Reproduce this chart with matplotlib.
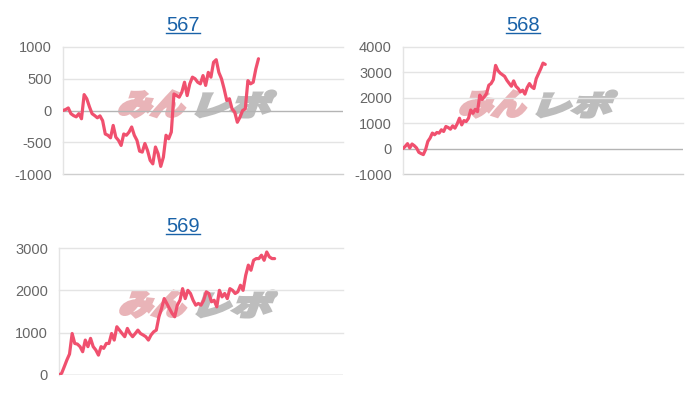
import matplotlib
matplotlib.use("Agg")
import matplotlib.pyplot as plt
import matplotlib.transforms as mtrans
from matplotlib.textpath import TextPath
from matplotlib.patches import PathPatch
from matplotlib.font_manager import FontProperties
from matplotlib.lines import Line2D
import numpy as np

# ---------------- data ----------------
titles = ["567", "568", "569"]

s567 = [0, 15, 40, -50, -80, -100, -50, -130, 250, 185,
        60, -50, -80, -115, -85, -160, -370, -390, -430, -235,
        -420, -470, -550, -370, -390, -340, -260, -390, -470, -640,
        -655, -520, -630, -785, -840, -575, -680, -880, -735, -390,
        -445, -340, 260, 235, 210, 290, 445, 235, 420, 525,
        500, 445, 420, 550, 395, 600, 525, 760, 800, 600,
        500, 340, 157, 185, 25, -25, -185, -105, 0, 25,
        470, 420, 445, 655, 815]

s568 = [0, 90, 195, 25, 180, 115, 25, -145, -195, -235,
        -40, 285, 415, 610, 545, 635, 610, 740, 675, 870,
        830, 765, 895, 805, 975, 1195, 935, 1105, 1065, 1195,
        1520, 1390, 1545, 1455, 2105, 1935, 2040, 2170, 2495, 2560,
        2715, 3275, 3080, 2975, 2910, 2845, 2690, 2570, 2455, 2665,
        2455, 2365, 2235, 2300, 2145, 2405, 2560, 2430, 2365, 2755,
        2950, 3145, 3365, 3315]

s569 = [0, 40, 195, 355, 495, 980, 745, 730, 670, 550,
        825, 670, 865, 670, 590, 470, 670, 630, 745, 745,
        980, 825, 1140, 1060, 980, 905, 1100, 980, 905, 980,
        1060, 980, 945, 905, 825, 945, 1020, 1060, 1375, 1570,
        1805, 1690, 1570, 1455, 1375, 1650, 1765, 2040, 1805, 2000,
        1925, 1765, 1650, 1690, 1650, 1765, 1965, 1925, 1730, 1765,
        1610, 2000, 1845, 1925, 1805, 2040, 2000, 1925, 1965, 2120,
        2000, 2355, 2595, 2475, 2710, 2750, 2750, 2830, 2710, 2905,
        2790, 2750, 2750]

series = [s567, s568, s569]
n_slots = [107, 125, 109]          # number of category slots on each x axis
yticks = [[-1000, -500, 0, 500, 1000],
          [-1000, 0, 1000, 2000, 3000, 4000],
          [0, 1000, 2000, 3000]]
watermark_text = ("みん", "レポ")

# ---------------- style ----------------
W, H = 700, 400
LINE = "#f0506e"
TITLE = "#1a62a8"
GRID = "#e4e4e4"
ZERO = "#b4b4b4"
TICK = "#666666"

plt.rcParams["font.family"] = ["Liberation Sans", "DejaVu Sans"]

fig = plt.figure(figsize=(W / 100, H / 100), dpi=100)
fig.patch.set_facecolor("white")

# axes boxes in pixels: left, top, right, bottom
boxes = [(63, 47, 343, 174), (403, 47, 683, 174), (59, 248, 343, 375)]
title_pos = [(183, 31), (523, 31), (183, 232)]
wm_center = [(198, 104), (539, 104), (199, 304)]

fp = FontProperties(family="Noto Sans CJK JP", weight="heavy")


def fit_path(text, box, skew):
    p = TextPath((0, 0), text, size=20, prop=fp)
    e = p.get_extents()
    x0, x1, y0, y1 = box
    t = (mtrans.Affine2D()
         .translate(-e.x0, -e.y0)
         .scale((x1 - x0) / e.width, (y1 - y0) / e.height)
         .translate(x0, y0)
         .skew_deg(skew, 0))
    return t.transform_path(p)


def add_watermark(ax, cx, cy, box):
    l, t, r, b = box
    fx = (cx - l) / (r - l)
    fy = 1 - (cy - t) / (b - t)
    off = mtrans.ScaledTranslation(fx, fy, ax.transAxes)
    p1 = fit_path(watermark_text[0], (-76, -12, -13, 13), 20)
    p2 = fit_path(watermark_text[1], (2, 74, -13, 13), 20)
    ax.add_patch(PathPatch(p1, facecolor="#e9b4b8", edgecolor="#e9b4b8",
                           lw=2.2, joinstyle="miter", transform=off,
                           zorder=1, clip_on=False))
    ax.add_patch(PathPatch(p2, facecolor="#bdbdbd", edgecolor="#bdbdbd",
                           lw=2.2, joinstyle="miter", transform=off,
                           zorder=1, clip_on=False))


axes = []
for i, (vals, box) in enumerate(zip(series, boxes)):
    l, t, r, b = box
    ax = fig.add_axes([l / W, 1 - b / H, (r - l) / W, (b - t) / H])
    axes.append(ax)
    x = np.arange(len(vals))
    ax.set_xlim(0, n_slots[i] - 1)
    ax.set_ylim(yticks[i][0], yticks[i][-1])
    ax.set_yticks(yticks[i])
    ax.set_yticklabels([str(v) for v in yticks[i]])
    ax.set_xticks([])
    for sp in ("top", "right", "bottom"):
        ax.spines[sp].set_visible(False)
    ax.spines["left"].set_color(GRID)
    ax.spines["left"].set_linewidth(1)
    ax.tick_params(axis="y", length=0, pad=8, labelsize=10.5, labelcolor=TICK)
    for v in yticks[i]:
        if v == 0:
            ax.axhline(v, color=ZERO, lw=1, zorder=2)
        elif v == yticks[i][0]:
            ax.axhline(v, color="#cfcfcf", lw=1, zorder=2, clip_on=False)
        else:
            ax.axhline(v, color=GRID, lw=1, zorder=2, clip_on=False)
    add_watermark(ax, wm_center[i][0], wm_center[i][1], box)
    ax.plot(x, vals, color=LINE, lw=2.3, solid_joinstyle="round",
            solid_capstyle="round", zorder=5)

# titles with underline
renderer = fig.canvas.get_renderer()
for (tx, ty), title in zip(title_pos, titles):
    txt = fig.text(tx / W, 1 - ty / H, title, ha="center", va="baseline",
                   fontsize=14.5, color=TITLE)
    bb = txt.get_window_extent(renderer)
    yl = (H - ty - 2) / H
    fig.add_artist(Line2D([bb.x0 / W, bb.x1 / W], [yl, yl], color=TITLE,
                          lw=1.0, transform=fig.transFigure))

fig.savefig("out.png", dpi=100, facecolor="white")
